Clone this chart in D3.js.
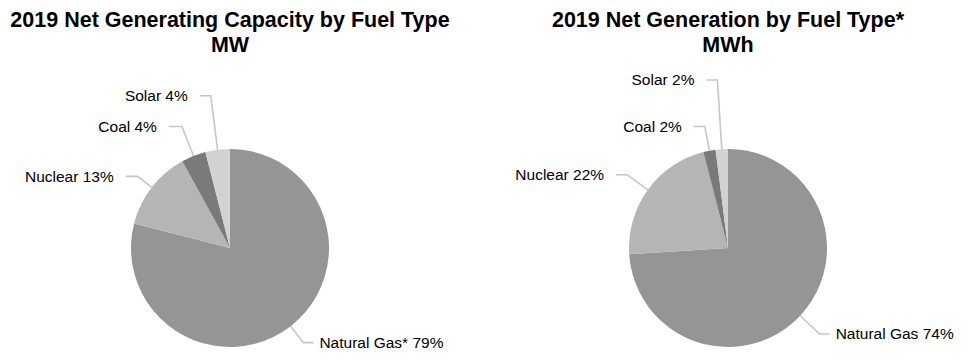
<!DOCTYPE html>
<html>
<head>
<meta charset="utf-8">
<script src="https://cdn.jsdelivr.net/npm/d3@7"></script>
<style>
  body { margin: 0; background: #fff; }
  svg { display: block; font-family: Arial, "Liberation Sans", sans-serif; }
</style>
</head>
<body>
<div id="chart"></div>
<script>
// data
var fuels = ["Natural Gas", "Nuclear", "Coal", "Solar"];
var capacityPct = [79, 13, 4, 4];
var generationPct = [74, 22, 2, 2];
var capacityLabels = ["Natural Gas* 79%", "Nuclear 13%", "Coal 4%", "Solar 4%"];
var generationLabels = ["Natural Gas 74%", "Nuclear 22%", "Coal 2%", "Solar 2%"];

var colors = {"Natural Gas": "#959595", "Nuclear": "#b5b5b5", "Coal": "#7a7a7a", "Solar": "#d2d2d2"};

var width = 969, height = 362, radius = 99;

var svg = d3.select("#chart").append("svg")
  .attr("width", width)
  .attr("height", height);

// leader line elbow radius (x radius) and horizontal run, per slice
var charts = [
  {cx: 230, cy: 248, title: ["2019 Net Generating Capacity by Fuel Type", "MW"],
   values: capacityPct, labels: capacityLabels,
   elbow: [1.21, 1.18, 1.32, 1.55], run: [10, 12, 13, 11]},
  {cx: 728, cy: 248, title: ["2019 Net Generation by Fuel Type*", "MWh"],
   values: generationPct, labels: generationLabels,
   elbow: [1.27, 1.26, 1.25, 1.70], run: [10, 11, 11, 11]}
];

var pie = d3.pie().sort(null).value(function(d){ return d.value; });
var arc = d3.arc().innerRadius(0).outerRadius(radius);

charts.forEach(function(c){
  var g = svg.append("g").attr("transform", "translate(" + c.cx + "," + c.cy + ")");

  var data = fuels.map(function(f, i){
    return {fuel: f, value: c.values[i], label: c.labels[i], elbow: c.elbow[i], run: c.run[i]};
  });
  var arcs = pie(data);

  // Title
  svg.append("text")
    .attr("x", c.cx)
    .attr("y", 27)
    .attr("text-anchor", "middle")
    .style("font-size", "21.5px")
    .style("font-weight", "bold")
    .text(c.title[0]);
  svg.append("text")
    .attr("x", c.cx)
    .attr("y", 52)
    .attr("text-anchor", "middle")
    .style("font-size", "21.5px")
    .style("font-weight", "bold")
    .text(c.title[1]);

  // Slices
  g.selectAll("path.slice")
    .data(arcs)
    .enter()
    .append("path")
    .attr("class", "slice")
    .attr("d", arc)
    .attr("fill", function(d){ return colors[d.data.fuel]; });

  // Leader lines + labels
  arcs.forEach(function(d){
    var a = (d.startAngle + d.endAngle) / 2;
    var sx = Math.sin(a), sy = -Math.cos(a);
    var p0 = [sx * radius, sy * radius];
    var p1 = [sx * radius * d.data.elbow, sy * radius * d.data.elbow];
    var dir = sx < 0 ? -1 : 1;
    var p2 = [p1[0] + dir * d.data.run, p1[1]];

    g.append("polyline")
      .attr("points", [p0, p1, p2].map(function(p){ return p.join(","); }).join(" "))
      .attr("fill", "none")
      .attr("stroke", "#c6c6c6")
      .attr("stroke-width", 1.6);

    g.append("text")
      .attr("x", p2[0] + (dir < 0 ? -12 : 6))
      .attr("y", p2[1])
      .attr("dy", "0.35em")
      .attr("text-anchor", dir < 0 ? "end" : "start")
      .style("font-size", "15.5px")
      .attr("fill", "#000")
      .text(d.data.label);
  });
});
</script>
</body>
</html>
